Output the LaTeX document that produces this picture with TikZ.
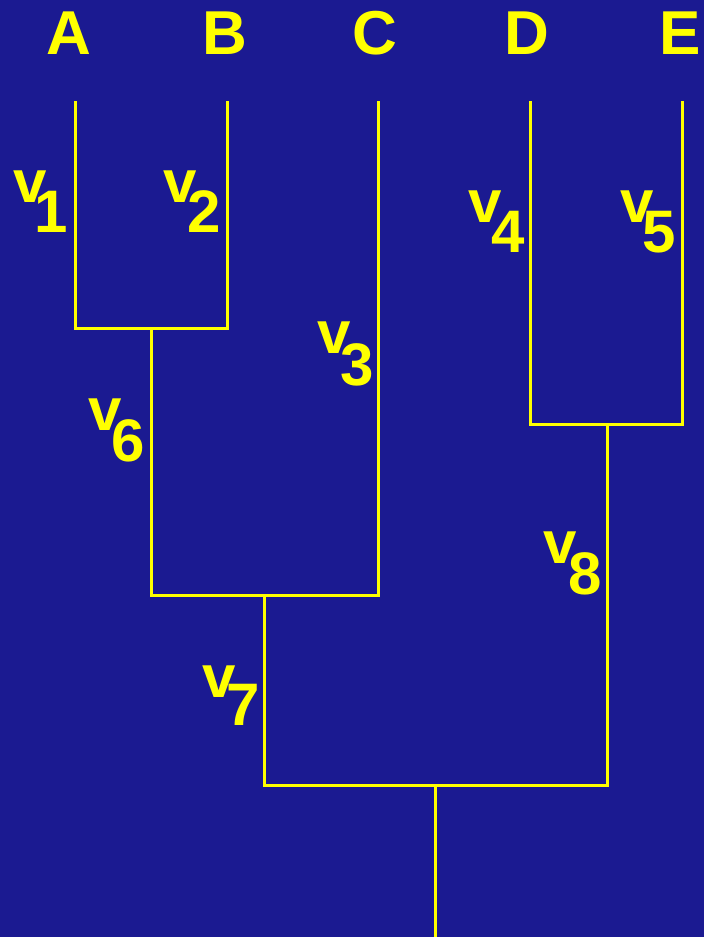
\documentclass[tikz,border=0pt]{standalone}
\usepackage{fontspec}
\setmainfont{Liberation Sans}
\definecolor{bg}{HTML}{1B1A91}
\definecolor{yl}{HTML}{FFFF00}
% #1 name, #2 x of v left, #3 baseline of v, #4 kern, #5 drop, #6 digit
\newcommand{\vlab}[6]{\node[vl] (v#1) at (#2,#3) {v\kern#4pt\raisebox{-#5pt}{#6}};}
\begin{document}
\begin{tikzpicture}[x=1pt,y=-1pt,
 lbl/.style={text=yl,font=\fontsize{62}{70}\selectfont\bfseries,inner sep=0pt},
 vl/.style={text=yl,font=\fontsize{60}{70}\selectfont\bfseries,inner sep=0pt,anchor=base west},
 br/.style={draw=yl,line width=3pt,line cap=rect}]
\fill[bg] (0,0) rectangle (704,937);
\useasboundingbox (0,0) rectangle (704,937);
% leaf labels
\node[lbl] (A) at (69,33.5) {A};
\node[lbl] (B) at (225,33.5) {B};
\node[lbl] (C) at (375,33.5) {C};
\node[lbl] (D) at (527,33.5) {D};
\node[lbl] (E) at (680,33.5) {E};
% tree points
\coordinate (tA) at (75,101);
\coordinate (tB) at (227,101);
\coordinate (tC) at (378,101);
\coordinate (tD) at (530,101);
\coordinate (tE) at (682,101);
\coordinate (AB) at (151,328);
\coordinate (ABC) at (264,595);
\coordinate (DE) at (607,424);
\coordinate (root) at (435,785);
\coordinate (bot) at (435,937);
% branches
\draw[br,line cap=butt] (tA) -- (tA |- AB) -- (tB |- AB) -- (tB);
\draw[br] (AB) -- (AB |- ABC) -- (tC |- ABC);
\draw[br,line cap=butt] (tC |- ABC) -- (tC);
\draw[br,line cap=butt] (tD) -- (tD |- DE) -- (tE |- DE) -- (tE);
\draw[br] (DE) -- (DE |- root) -- (ABC |- root) -- (ABC);
\draw[br,line cap=butt] (root) -- (bot);
% branch labels
\vlab{1}{13}{202}{-12}{30}{1}
\vlab{2}{163.5}{202}{-10}{30}{2}
\vlab{3}{317}{353}{-10}{32}{3}
\vlab{4}{468}{222}{-10}{30}{4}
\vlab{5}{620}{222}{-11}{30}{5}
\vlab{6}{88}{430}{-10}{31}{6}
\vlab{7}{202}{697}{-9}{28}{7}
\vlab{8}{543}{563}{-8}{31}{8}
\end{tikzpicture}
\end{document}
